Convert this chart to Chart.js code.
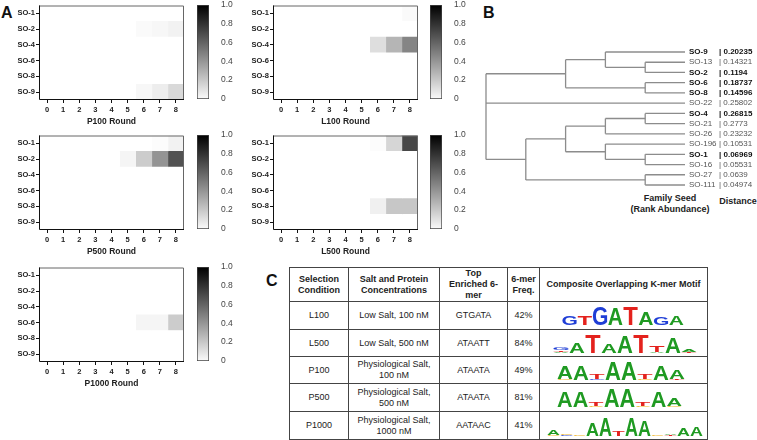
<!DOCTYPE html>
<html>
<head>
<meta charset="utf-8">
<script src="https://cdn.jsdelivr.net/npm/chart.js@4/dist/chart.umd.min.js"></script>
<style>
  body { margin: 0; background: #fff; font-family: "Liberation Sans", Arial, sans-serif; }
  #fig { position: relative; width: 757px; height: 440px; overflow: hidden; }
  canvas { position: absolute; }
  .panel { position: absolute; font-weight: bold; font-size: 16px; color: #111; line-height: 16px; }
  .note { position: absolute; font-size: 9px; font-weight: bold; color: #222; text-align: center; line-height: 11px; }
  table { position: absolute; left: 289px; top: 267px; width: 418px; border-collapse: collapse; table-layout: fixed;
          font-size: 9px; color: #222; }
  td, th { border: 1px solid #444; text-align: center; padding: 0; line-height: 11px; }
  th { font-weight: bold; }
</style>
</head>
<body>
<div id="fig">
  <div class="panel" style="left:1px;top:5px">A</div>
  <div class="panel" style="left:483px;top:5px">B</div>
  <div class="panel" style="left:266px;top:273px">C</div>

  <div class="note" style="left:620px;top:193px;width:100px">Family Seed<br>(Rank Abundance)</div>
  <div class="note" style="left:718px;top:196px;width:40px">Distance</div>

  <table>
    <colgroup><col style="width:59px"><col style="width:91px"><col style="width:68px"><col style="width:32px"><col style="width:168px"></colgroup>
    <tr style="height:34px"><th>Selection<br>Condition</th><th>Salt and Protein<br>Concentrations</th><th>Top<br>Enriched 6-<br>mer</th><th>6-mer<br>Freq.</th><th>Composite Overlapping K-mer Motif</th></tr>
    <tr style="height:28px"><td>L100</td><td>Low Salt, 100 nM</td><td>GTGATA</td><td>42%</td><td></td></tr>
    <tr style="height:27px"><td>L500</td><td>Low Salt, 500 nM</td><td>ATAATT</td><td>84%</td><td></td></tr>
    <tr style="height:27px"><td>P100</td><td>Physiological Salt,<br>100 nM</td><td>ATAATA</td><td>49%</td><td></td></tr>
    <tr style="height:28px"><td>P500</td><td>Physiological Salt,<br>500 nM</td><td>ATAATA</td><td>81%</td><td></td></tr>
    <tr style="height:28px"><td>P1000</td><td>Physiological Salt,<br>1000 nM</td><td>AATAAC</td><td>41%</td><td></td></tr>
  </table>
</div>
<script>
// ---- panel A data: family seed enrichment per round (0 = none, 1 = max)
const seeds = ['SO-1', 'SO-2', 'SO-4', 'SO-6', 'SO-8', 'SO-9'];
const rounds = [0, 1, 2, 3, 4, 5, 6, 7, 8];
const zero = [0, 0, 0, 0, 0, 0, 0, 0, 0];
const p100 = [zero, [0, 0, 0, 0, 0, 0, 0.02, 0.03, 0.05], zero, zero, zero, [0, 0, 0, 0, 0, 0, 0.03, 0.07, 0.15]];
const l100 = [[0, 0, 0, 0, 0, 0, 0, 0, 0.02], zero, [0, 0, 0, 0, 0, 0, 0.13, 0.29, 0.48], zero, zero, zero];
const p500 = [[0, 0, 0, 0, 0, 0, 0, 0.01, 0.05], [0, 0, 0, 0, 0, 0.04, 0.2, 0.42, 0.68], zero, zero, zero, zero];
const l500 = [[0, 0, 0, 0, 0, 0, 0.01, 0.16, 0.72], zero, zero, zero, [0, 0, 0, 0, 0, 0, 0.06, 0.22, 0.22], zero];
const p1000 = [zero, zero, zero, [0, 0, 0, 0, 0, 0, 0.04, 0.04, 0.2], zero, zero];
const scaleTicks = [0, 0.2, 0.4, 0.6, 0.8, 1.0];

// ---- panel B data
const leaves = ['SO-9', 'SO-13', 'SO-2', 'SO-6', 'SO-8', 'SO-22', 'SO-4', 'SO-21', 'SO-26', 'SO-196', 'SO-1', 'SO-16', 'SO-27', 'SO-111'];
const distances = ['0.20235', '0.14321', '0.1194', '0.18737', '0.14596', '0.25802', '0.26815', '0.2773', '0.23232', '0.10531', '0.06969', '0.05531', '0.0639', '0.04974'];
const boldSeeds = ['SO-9', 'SO-2', 'SO-6', 'SO-8', 'SO-4', 'SO-1'];
// [join rank, children...]
const tree = [5,
  [3, [2, 'SO-9', [1, 'SO-13', 'SO-2']], [1, 'SO-6', 'SO-8']],
  'SO-22',
  [4, [3, [2, [1, 'SO-4', 'SO-21'], 'SO-26'], [2, 'SO-196', [1, 'SO-1', 'SO-16']]], [1, 'SO-27', 'SO-111']]];

// ---- panel C logos: per position, [letter, height] from bottom to top
const logoL100 = [[['G', 0.52]], [['T', 0.47]], [['G', 1]], [['A', 0.9]], [['T', 1]], [['A', 0.68]], [['G', 0.42]], [['A', 0.48]]];
const logoL500 = [[['A', 0.07], ['T', 0.09], ['G', 0.14]], [['A', 0.55]], [['T', 1]], [['A', 0.5]], [['A', 0.9]], [['T', 1]],
  [['A', 0.04], ['T', 0.33]], [['A', 0.85]], [['T', 0.04], ['A', 0.12]]];
const logoP100 = [[['C', 0.03], ['A', 0.7]], [['A', 0.82]], [['G', 0.03], ['T', 0.3]], [['A', 1]], [['A', 1]], [['C', 0.03], ['T', 0.3]],
  [['A', 0.82]], [['T', 0.07], ['A', 0.48]]];
const logoP500 = [[['A', 0.85]], [['A', 0.85]], [['C', 0.04], ['T', 0.24]], [['A', 1]], [['A', 1]], [['C', 0.04], ['T', 0.24]],
  [['A', 0.85]], [['C', 0.03], ['A', 0.45]]];
const logoP1000 = [[['C', 0.03], ['A', 0.3]], [['G', 0.04], ['C', 0.04]], [['C', 0.05]], [['A', 0.7]], [['A', 1]], [['T', 0.25]],
  [['A', 1]], [['A', 0.85]], [['C', 0.05]], [['T', 0.04], ['A', 0.03]], [['A', 0.45]], [['A', 0.5]]];
const letterColors = { A: '#1f9a22', C: '#f0b21e', G: '#1f3ed6', T: '#e4221d' };

const FONT = '"Liberation Sans", Arial, sans-serif';
Chart.defaults.font.family = FONT;
Chart.defaults.animation = false;
Chart.defaults.responsive = false;
Chart.defaults.events = [];
Chart.defaults.plugins.legend.display = false;
Chart.defaults.plugins.tooltip.enabled = false;

const fig = document.getElementById('fig');

function addCanvas(left, top, w, h) {
    const c = document.createElement('canvas');
    c.width = w;
    c.height = h;
    c.style.left = left + 'px';
    c.style.top = top + 'px';
    fig.appendChild(c);
    return c;
}

function shade(v) {
    const g = Math.round(255 * (1 - v));
    return `rgb(${g},${g},${g})`;
}

// box round heatmap: grey top/right, black left/bottom
const frame = {
    id: 'frame',
    afterDraw(chart) {
        const { left, right, top, bottom } = chart.chartArea;
        const ctx = chart.ctx;
        ctx.save();
        ctx.lineWidth = 1;
        ctx.strokeStyle = '#666';
        ctx.beginPath();
        ctx.moveTo(left, top + 0.5); ctx.lineTo(right - 0.5, top + 0.5); ctx.lineTo(right - 0.5, bottom);
        ctx.stroke();
        ctx.strokeStyle = '#111';
        ctx.beginPath();
        ctx.moveTo(left + 0.5, top); ctx.lineTo(left + 0.5, bottom - 0.5); ctx.lineTo(right, bottom - 0.5);
        ctx.stroke();
        ctx.restore();
    }
};

function heatmap(name, vals, plotLeft, plotTop, barLeft) {
    const cv = addCanvas(plotLeft - 39, plotTop - 4, 190, 130);
    new Chart(cv, {
        type: 'bar',
        data: {
            labels: seeds,
            datasets: rounds.map((r, c) => ({
                data: seeds.map(() => [r - 0.5, r + 0.5]),
                backgroundColor: seeds.map((s, i) => shade(vals[i][c])),
                borderWidth: 0,
                barPercentage: 1,
                categoryPercentage: 1,
                grouped: false
            }))
        },
        options: {
            indexAxis: 'y',
            layout: { padding: { top: 4, right: 6 } },
            scales: {
                x: {
                    type: 'linear', min: -0.5, max: 8.5,
                    afterBuildTicks: s => { s.ticks = rounds.map(v => ({ value: v })); },
                    afterFit: s => { s.height = 30; },
                    grid: { drawOnChartArea: false, tickLength: 3, color: '#111' },
                    border: { display: false },
                    ticks: { font: { size: 7.5, weight: 'bold' }, color: '#222', padding: 2, maxRotation: 0 },
                    title: { display: true, text: name + ' Round', font: { size: 8.5, weight: 'bold' }, color: '#222', padding: { top: 0, bottom: 3.5 } }
                },
                y: {
                    afterFit: s => { s.width = 39; },
                    grid: { drawOnChartArea: false, tickLength: 3, color: '#111', offset: false },
                    border: { display: false },
                    ticks: { font: { size: 7.5, weight: 'bold' }, color: '#222', padding: 1 }
                }
            }
        },
        plugins: [frame]
    });

    // colour scale bar
    const cb = addCanvas(barLeft - 7, plotTop - 8, 50, 112);
    new Chart(cb, {
        type: 'bar',
        data: {
            labels: [''],
            datasets: [{
                data: [[scaleTicks[0], scaleTicks[scaleTicks.length - 1]]],
                backgroundColor: ctx => {
                    const a = ctx.chart.chartArea;
                    if (!a) return '#888';
                    const g = ctx.chart.ctx.createLinearGradient(0, a.bottom, 0, a.top);
                    g.addColorStop(0, shade(0.02));
                    g.addColorStop(1, shade(1));
                    return g;
                },
                borderColor: '#444',
                borderWidth: 1,
                borderSkipped: false,
                barPercentage: 1,
                categoryPercentage: 1
            }]
        },
        options: {
            layout: { padding: { top: 8, left: 7, bottom: 8 } },
            scales: {
                x: { display: false },
                y: {
                    position: 'right', min: 0, max: 1,
                    afterBuildTicks: s => { s.ticks = scaleTicks.map(v => ({ value: v })); },
                    afterFit: s => { s.width = 31; },
                    grid: { display: false },
                    border: { display: false },
                    ticks: { font: { size: 8.5 }, color: '#444', padding: 4, callback: v => v === 0 ? '0' : v.toFixed(1) }
                }
            }
        }
    });
}

heatmap('P100', p100, 39, 4, 197);
heatmap('L100', l100, 273, 4, 430);
heatmap('P500', p500, 39, 134, 197);
heatmap('L500', l500, 273, 134, 430);
heatmap('P1000', p1000, 39, 266, 197);

// ---- dendrogram
const segments = [];
function place(node) {
    if (typeof node === 'string') return { x: 0, y: leaves.indexOf(node) };
    const level = node[0];
    const kids = node.slice(1).map(place);
    const ys = kids.map(k => k.y);
    kids.forEach(k => segments.push([{ x: k.x, y: k.y }, { x: level, y: k.y }]));
    segments.push([{ x: level, y: Math.min(...ys) }, { x: level, y: Math.max(...ys) }]);
    return { x: level, y: (Math.min(...ys) + Math.max(...ys)) / 2 };
}
place(tree);

const isBold = i => boldSeeds.includes(leaves[i]);

// leaf names and distances, placed on the y scale
const leafLabels = {
    id: 'leafLabels',
    afterDraw(chart) {
        const ctx = chart.ctx;
        const y = chart.scales.y;
        const x0 = chart.chartArea.right;
        ctx.save();
        ctx.textBaseline = 'middle';
        ctx.textAlign = 'left';
        leaves.forEach((name, i) => {
            const py = y.getPixelForValue(i);
            ctx.font = `${isBold(i) ? 'bold ' : ''}8px ${FONT}`;
            ctx.fillStyle = isBold(i) ? '#111' : '#555';
            ctx.fillText(name, x0 + 4, py);
            ctx.fillText('| ' + distances[i], x0 + 34, py);
        });
        ctx.restore();
    }
};

new Chart(addCanvas(480, 40, 277, 160), {
    type: 'scatter',
    data: {
        datasets: segments.map(seg => ({
            data: seg, showLine: true, borderColor: '#8c8c8c', borderWidth: 1.3, pointRadius: 0, clip: false
        }))
    },
    options: {
        layout: { padding: { left: 6, top: 12, bottom: 15, right: 72 } },
        scales: {
            x: { type: 'linear', min: 0, max: 5, reverse: true, display: false },
            y: { type: 'linear', min: 0, max: leaves.length - 1, reverse: true, display: false }
        }
    },
    plugins: [leafLabels]
});

// ---- sequence logos
function drawGlyph(ctx, ch, left, top, w, h, color) {
    ctx.save();
    ctx.font = `bold 100px ${FONT}`;
    const m = ctx.measureText(ch);
    const gw = m.actualBoundingBoxLeft + m.actualBoundingBoxRight;
    const gh = m.actualBoundingBoxAscent + m.actualBoundingBoxDescent;
    ctx.translate(left, top);
    ctx.scale(w / gw, h / gh);
    ctx.fillStyle = color;
    ctx.textAlign = 'left';
    ctx.textBaseline = 'alphabetic';
    ctx.fillText(ch, m.actualBoundingBoxLeft, m.actualBoundingBoxAscent);
    ctx.restore();
}

const letters = {
    id: 'letters',
    afterDatasetsDraw(chart) {
        chart.data.datasets.forEach((ds, d) => {
            chart.getDatasetMeta(d).data.forEach((el, i) => {
                const ch = ds.letters[i];
                if (!ch || !ds.data[i]) return;
                const { x, y, base, width } = el.getProps(['x', 'y', 'base', 'width'], true);
                drawGlyph(chart.ctx, ch, x - width / 2, Math.min(y, base), width, Math.abs(base - y), letterColors[ch]);
            });
        });
    }
};

function logo(stacks, left, right, baseline) {
    const depth = Math.max(...stacks.map(p => p.length));
    const datasets = [];
    for (let k = 0; k < depth; k++) {
        datasets.push({
            data: stacks.map(p => p[k] ? p[k][1] : 0),
            letters: stacks.map(p => p[k] ? p[k][0] : ''),
            backgroundColor: 'rgba(0,0,0,0)',
            borderWidth: 0,
            barPercentage: 0.94,
            categoryPercentage: 1
        });
    }
    new Chart(addCanvas(left, baseline - 18, right - left, 18), {
        type: 'bar',
        data: { labels: stacks.map((p, i) => i + 1), datasets },
        options: {
            scales: {
                x: { stacked: true, display: false },
                y: { stacked: true, min: 0, max: 1, display: false }
            }
        },
        plugins: [letters]
    });
}

logo(logoL100, 562, 684, 325);
logo(logoL500, 553, 697, 353);
logo(logoP100, 557, 685, 380);
logo(logoP500, 557, 682, 407);
logo(logoP1000, 547, 703, 436);
</script>
</body>
</html>
